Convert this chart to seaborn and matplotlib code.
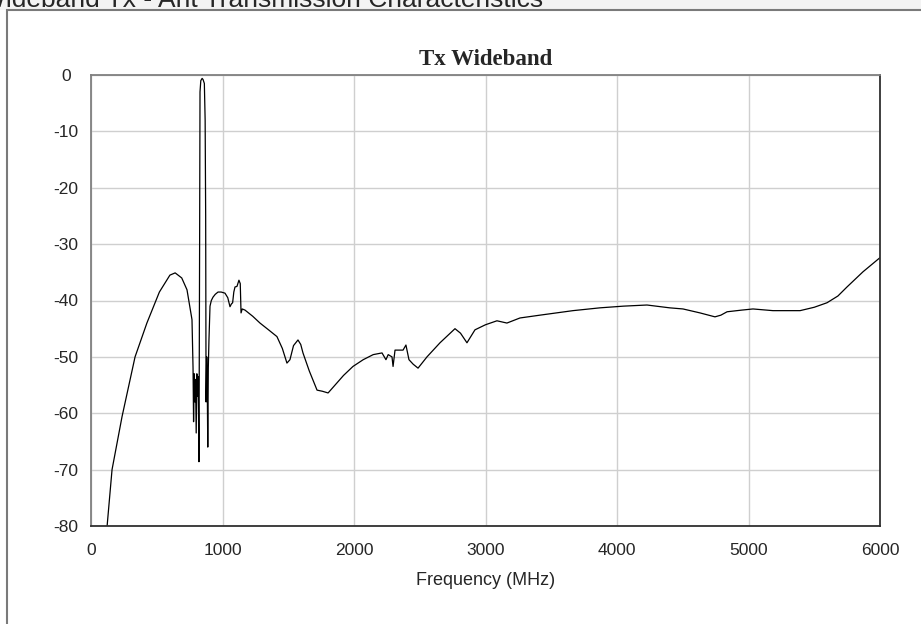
import numpy as np
import pandas as pd
import matplotlib
matplotlib.use("Agg")
import matplotlib.pyplot as plt
import seaborn as sns
from matplotlib.patches import Rectangle

# ===============================
# DATA
# ===============================
freq_mhz = [115, 160, 236, 335, 425, 520, 600, 640, 690, 730, 768, 776, 780, 785, 790,
            795, 800, 805, 810, 815, 821, 826, 829, 835, 845, 852, 862, 868, 872, 875,
            880, 884, 888, 892, 897, 905, 915, 928, 945, 966, 990, 1019, 1040, 1057,
            1068, 1077, 1086, 1095, 1110, 1125, 1135, 1141, 1150, 1171, 1230, 1285,
            1350, 1414, 1455, 1490, 1513, 1540, 1574, 1595, 1612, 1660, 1719, 1760,
            1803, 1871, 1920, 1992, 2070, 2146, 2213, 2243, 2260, 2289, 2297, 2312,
            2373, 2395, 2418, 2450, 2487, 2555, 2654, 2768, 2810, 2859, 2920, 3000,
            3087, 3163, 3262, 3414, 3665, 3871, 4050, 4228, 4400, 4502, 4631, 4745,
            4790, 4837, 4950, 5034, 5186, 5392, 5500, 5597, 5680, 5749, 5871, 6000]
gain_db = [-82, -70, -60.6, -50, -44, -38.5, -35.5, -35.1, -36, -38.1, -43.4, -52, -61.5, -53, -58,
           -54, -63.5, -53, -57, -53.5, -68.6, -30, -3, -1, -0.6, -0.8, -1.5, -8, -25, -58,
           -50, -55, -66, -52, -47, -41, -40, -39.4, -38.9, -38.5, -38.5, -38.7, -39.5, -41.1,
           -40.6, -40.4, -38.5, -37.6, -37.5, -36.4, -37, -42.2, -41.5, -41.7, -42.8, -44,
           -45.2, -46.4, -48.5, -51.1, -50.5, -48, -47, -47.8, -49.3, -52.5, -55.9, -56.1,
           -56.4, -54.6, -53.3, -51.7, -50.5, -49.6, -49.3, -50.5, -49.6, -50, -51.7, -48.8,
           -48.8, -47.9, -50.5, -51.3, -52, -50, -47.5, -45, -45.8, -47.5, -45.2, -44.3,
           -43.6, -44, -43.1, -42.6, -41.8, -41.3, -41.0, -40.8, -41.3, -41.5, -42.2, -42.9,
           -42.6, -42, -41.7, -41.5, -41.8, -41.8, -41.2, -40.4, -39.2, -37.6, -34.9, -32.4]

x_ticks = [0, 1000, 2000, 3000, 4000, 5000, 6000]
y_ticks = [0, -10, -20, -30, -40, -50, -60, -70, -80]

df = pd.DataFrame({"freq": freq_mhz, "gain": gain_db})

# ===============================
# STYLE
# ===============================
sns.set_style("whitegrid")
plt.rcParams["font.family"] = ["Liberation Sans", "DejaVu Sans"]
plt.rcParams["axes.unicode_minus"] = False

fig = plt.figure(figsize=(9.21, 6.24), dpi=100)
fig.patch.set_facecolor("white")

# light strip at the top + outer frame, like the cropped screenshot
fig.patches.append(Rectangle((0, 614 / 624), 1, 10 / 624, transform=fig.transFigure,
                             facecolor="#f3f3f3", edgecolor="none", zorder=0))
fig.patches.append(Rectangle((7 / 921, -0.05), 1.2, 614 / 624 + 0.05, transform=fig.transFigure,
                             facecolor="none", edgecolor="#7a7a7a", linewidth=1.5, zorder=1))
# window caption, cut at the top edge as in the reference
fig.text(543 / 921, 1 - 7 / 624, "Wideband Tx - Ant Transmission Characteristics",
         ha="right", va="baseline", fontsize=19)

ax = fig.add_axes([91 / 921, 98 / 624, 789 / 921, 451 / 624])

sns.lineplot(data=df, x="freq", y="gain", ax=ax, color="black", linewidth=0.9,
             estimator=None, sort=False)

ax.set_xlim(0, 6000)
ax.set_ylim(-80, 0)
ax.set_xticks(x_ticks)
ax.set_yticks(y_ticks)
ax.grid(True, color="#cfcfcf", linewidth=1)
ax.tick_params(axis="both", length=0, labelsize=12.5)
ax.tick_params(axis="x", pad=12)
ax.tick_params(axis="y", pad=18)
for lab in ax.get_yticklabels():
    lab.set_horizontalalignment("center")

for side in ["top", "left"]:
    ax.spines[side].set_color("#808080")
for side in ["right", "bottom"]:
    ax.spines[side].set_color("#303030")
for s in ax.spines.values():
    s.set_linewidth(1.3)

ax.set_title("Tx Wideband", family=["Liberation Serif", "DejaVu Serif"],
             fontweight="bold", fontsize=16.5, pad=7)
ax.set_xlabel("Frequency (MHz)", fontsize=13, labelpad=10)
ax.set_ylabel("")

fig.savefig("out.png", dpi=100)
